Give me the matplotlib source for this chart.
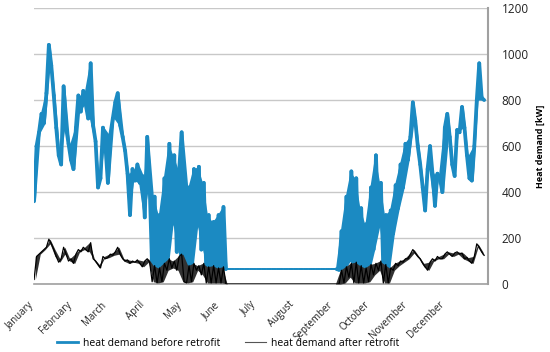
import matplotlib
matplotlib.use('Agg')
import matplotlib.pyplot as plt
import matplotlib.transforms as mtransforms
from matplotlib.collections import LineCollection
from matplotlib.lines import Line2D
import numpy as np

# heat demand [kW], two readings per 4-day step (day 4k and day 4k+2)
before_a = [360, 660, 700, 1040, 820, 560, 860, 610, 500, 820, 840, 720, 690, 420, 680, 440,
            720, 830, 640, 480, 500, 520, 470, 640,
            62, 60, 62, 70, 260, 140, 660, 62, 62, 250, 150, 60, 60, 60, 60,
            65, 65, 65, 65, 65, 65, 65, 65, 65, 65, 65, 65, 65, 65, 65, 65, 65, 65, 65, 65, 65, 65, 65,
            62, 62, 100, 60, 60, 60, 60, 150, 250, 60, 60, 220, 330,
            420, 540, 790, 600, 420, 500, 480, 480, 400, 740, 520, 670, 770, 560, 450, 800, 810]
before_b = [600, 740, 830, 950, 680, 520, 680, 540, 680, 750, 780, 960, 620, 460, 600, 650,
            790, 690, 580, 300, 450, 440, 290, 420,
            380, 300, 460, 610, 560, 500, 62, 420, 500, 510, 440, 300, 270, 300, 335,
            65, 65, 65, 65, 65, 65, 65, 65, 65, 65, 65, 65, 65, 65, 65, 65, 65, 65, 65, 65, 65, 65, 65,
            230, 380, 490, 460, 330, 260, 420, 560, 440, 300, 320, 430, 520,
            610, 640, 710, 520, 320, 600, 340, 460, 680, 640, 470, 660, 680, 460, 600, 960, 800]

after_a = [20, 130, 150, 195, 150, 95, 160, 100, 90, 150, 160, 140, 110, 85, 120, 115,
           125, 160, 110, 105, 100, 105, 75, 110,
           10, 5, 10, 60, 70, 60, 130, 5, 10, 60, 40, 5, 5, 5, 5,
           0, 0, 0, 0, 0, 0, 0, 0, 0, 0, 0, 0, 0, 0, 0, 0, 0, 0, 0, 0, 0, 0, 0,
           0, 5, 30, 5, 5, 5, 10, 40, 60, 5, 5, 60, 80,
           95, 110, 150, 120, 90, 60, 110, 120, 110, 140, 120, 140, 135, 115, 90, 175, 140]
after_b = [120, 140, 160, 175, 120, 110, 130, 110, 130, 140, 150, 180, 100, 70, 110, 130,
           140, 130, 100, 90, 95, 90, 100, 95,
           80, 70, 90, 110, 100, 120, 10, 80, 90, 80, 90, 75, 80, 70, 75,
           0, 0, 0, 0, 0, 0, 0, 0, 0, 0, 0, 0, 0, 0, 0, 0, 0, 0, 0, 0, 0, 0, 0,
           60, 75, 90, 95, 80, 70, 85, 90, 100, 85, 70, 90, 100,
           110, 130, 135, 110, 75, 95, 100, 110, 130, 130, 135, 130, 110, 100, 120, 160, 125]

months = ['January', 'February', 'March', 'April', 'May', 'June', 'July',
          'August', 'September', 'October', 'November', 'December']
month_start = [0, 31, 59, 90, 120, 151, 181, 212, 243, 273, 304, 334]
yticks = [0, 200, 400, 600, 800, 1000, 1200]

BLUE = '#1b8ac2'
font = 'Open Sans'


def zigzag(a, b):
	"""interleave the two readings so the line jumps like hourly data"""
	a = np.asarray(a, float)
	b = np.asarray(b, float)
	day_a = np.arange(len(a)) * 4.0
	x = np.empty(2 * len(a))
	y = np.empty(2 * len(a))
	x[0::2], x[1::2] = day_a, day_a + 2.0
	y[0::2], y[1::2] = a, b
	return x, y, day_a + 1.0, np.minimum(a, b), np.maximum(a, b)


fig = plt.figure(figsize=(5.5, 3.52), dpi=100)
ax = fig.add_axes([0.062, 0.193, 0.825, 0.784])

x, y, xm, lo, hi = zigzag(before_a, before_b)
ax.fill_between(xm, lo, hi, color=BLUE, lw=0, zorder=2)
pts = np.column_stack([x, y])
segs = np.stack([pts[:-1], pts[1:]], axis=1)
# the summer base load is a steady thin line, the heating season a thick noisy one
flat = segs[:, 0, 1] == segs[:, 1, 1]
ax.add_collection(LineCollection(segs, colors=BLUE, linewidths=np.where(flat, 1.4, 2.7),
                                 capstyle='round', zorder=3))

x, y, xm, lo, hi = zigzag(after_a, after_b)
ax.fill_between(xm, lo, hi, color='#333333', lw=0, zorder=4)
ax.plot(x, y, color='black', lw=0.9, zorder=5)

ax.set_xlim(0, 369)
ax.set_ylim(0, 1200)
ax.yaxis.tick_right()
ax.set_yticks(yticks)
ax.set_yticklabels([str(v) for v in yticks], fontsize=8.5, family=font, color='#222222')
ax.tick_params(axis='y', length=0, pad=10)
ax.yaxis.set_label_position('right')
ax.set_ylabel('Heat demand [kW]', fontsize=6.5, fontweight='bold', family=font, labelpad=5)

ax.set_xticks(month_start)
ax.set_xticklabels(months, rotation=45, ha='right', rotation_mode='anchor',
                   fontsize=7, family=font, color='#222222')
ax.tick_params(axis='x', length=0, pad=11)
shift = mtransforms.ScaledTranslation(-6 / 100, 0, fig.dpi_scale_trans)
for lab in ax.get_xticklabels():
	lab.set_transform(lab.get_transform() + shift)

ax.grid(axis='y', color='#c8c8c8', lw=1)
ax.set_axisbelow(True)
for side in ['left', 'top']:
	ax.spines[side].set_visible(False)
ax.spines['right'].set_color('#a0a0a0')
ax.spines['right'].set_linewidth(1.5)
ax.spines['bottom'].set_color('#a0a0a0')
ax.spines['bottom'].set_linewidth(1.2)

handles = [Line2D([], [], color=BLUE, lw=2), Line2D([], [], color='#555555', lw=0.8)]
fig.legend(handles, ['heat demand before retrofit', 'heat demand after retrofit'],
           loc='center', bbox_to_anchor=(0.415, 0.024), ncol=2, frameon=False,
           prop={'family': font, 'size': 7.5}, handlelength=2.0, handletextpad=0.5,
           columnspacing=2.4)

fig.savefig('out.png', dpi=100)
